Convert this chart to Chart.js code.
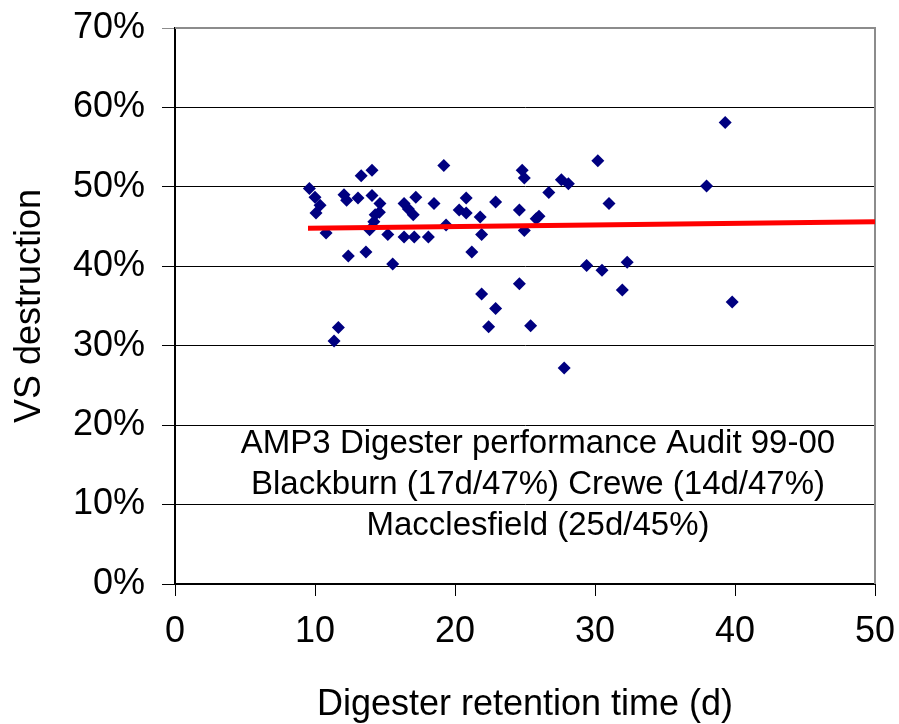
<!DOCTYPE html>
<html>
<head>
<meta charset="utf-8">
<script src="https://cdn.jsdelivr.net/npm/chart.js@4/dist/chart.umd.min.js"></script>
<style>
  html, body { margin: 0; padding: 0; background: #fff; }
  #wrap { width: 899px; height: 724px; }
</style>
</head>
<body>
<div id="wrap"><canvas id="vsChart" width="899" height="724"></canvas></div>
<script>
// retention time (d) and VS destruction (%)
const retentionDays = [
  9.6, 10.0, 10.36, 10.07, 10.79, 11.67, 11.36, 12.07, 12.26, 12.38,
  13.07, 13.3, 13.64, 13.9, 14.07, 14.07, 14.2, 14.3, 14.6, 14.64,
  15.2, 15.55, 16.36, 16.36, 16.67, 17.02, 17.09, 17.2, 18.1, 18.5,
  19.2, 19.36, 20.3, 20.8, 20.8, 21.2, 21.8, 21.9, 21.9, 22.4,
  22.9, 22.9, 24.6, 24.6, 24.8, 24.95, 24.95, 25.4, 25.8, 26.0,
  26.7, 27.6, 27.8, 28.1, 29.4, 30.2, 30.5, 31.0, 31.95, 32.3,
  37.97, 39.3, 39.8
];
const vsDestruction = [
  49.8, 48.7, 47.7, 46.7, 44.2, 32.3, 30.6, 49.0, 48.3, 41.3,
  48.6, 51.4, 41.8, 44.6, 52.1, 48.9, 45.6, 46.5, 46.8, 47.9,
  44.0, 40.3, 47.9, 43.7, 47.2, 46.5, 43.7, 48.7, 43.7, 47.9,
  52.7, 45.2, 47.1, 46.7, 48.6, 41.8, 46.2, 44.0, 36.5, 32.4,
  48.1, 34.7, 47.1, 37.8, 52.1, 51.1, 44.5, 32.5, 46.0, 46.3,
  49.3, 50.9, 27.2, 50.4, 40.1, 53.3, 39.5, 47.9, 37.0, 40.5,
  50.1, 58.1, 35.5
];

// linear trend line end points
const trendX = [9.5, 50];
const trendY = [44.8, 45.6];

const xTicks = [0, 10, 20, 30, 40, 50];
const yTicks = [0, 10, 20, 30, 40, 50, 60, 70];

const noteLines = [
  'AMP3 Digester performance Audit 99-00',
  'Blackburn (17d/47%) Crewe (14d/47%)',
  'Macclesfield (25d/45%)'
];

const FONT = "'Liberation Sans', Arial, sans-serif";

const points = retentionDays.map((x, i) => ({ x: x, y: vsDestruction[i] }));
const trend = trendX.map((x, i) => ({ x: x, y: trendY[i] }));

function noPad(s) {
  s.paddingTop = 0;
  s.paddingBottom = 0;
  s.paddingLeft = 0;
  s.paddingRight = 0;
}

// right/top frame and the text box inside the plot
const framePlugin = {
  id: 'frame',
  beforeDatasetsDraw(chart) {
    const { ctx, chartArea: a } = chart;
    ctx.save();
    ctx.strokeStyle = '#8c8c8c';
    ctx.lineWidth = 2;
    ctx.beginPath();
    ctx.moveTo(a.left, a.top);
    ctx.lineTo(a.right, a.top);
    ctx.lineTo(a.right, a.bottom);
    ctx.stroke();
    ctx.restore();
  },
  afterDraw(chart) {
    const { ctx, chartArea: a } = chart;
    ctx.save();
    ctx.fillStyle = '#000';
    ctx.font = '33px ' + FONT;
    ctx.textAlign = 'center';
    ctx.textBaseline = 'middle';
    const cx = a.left + 363;
    noteLines.forEach((t, i) => ctx.fillText(t, cx, a.top + 416 + i * 41));
    ctx.restore();
  }
};

new Chart(document.getElementById('vsChart'), {
  type: 'scatter',
  data: {
    datasets: [
      {
        label: 'trend',
        data: trend,
        showLine: true,
        borderColor: '#ff0000',
        borderWidth: 5,
        pointRadius: 0,
        fill: false
      },
      {
        label: 'VS destruction',
        data: points,
        pointStyle: 'rectRot',
        pointRadius: 6.5,
        backgroundColor: '#000080',
        borderColor: '#000080',
        borderWidth: 0
      }
    ]
  },
  options: {
    responsive: false,
    animation: false,
    layout: { padding: { top: 28, right: 24, left: 0, bottom: 0 } },
    plugins: {
      legend: { display: false },
      tooltip: { enabled: false }
    },
    scales: {
      x: {
        type: 'linear',
        min: 0,
        max: 50,
        afterBuildTicks: s => { s.ticks = xTicks.map(v => ({ value: v })); },
        afterFit: s => { s.height = 140; noPad(s); },
        grid: {
          drawOnChartArea: false,
          drawTicks: true,
          tickLength: 12,
          color: '#000',
          lineWidth: 1
        },
        border: { color: '#000', width: 2 },
        ticks: {
          color: '#000',
          padding: 14,
          maxRotation: 0,
          font: { family: FONT, size: 36 }
        },
        title: {
          display: true,
          text: 'Digester retention time (d)',
          color: '#000',
          font: { family: FONT, size: 36, lineHeight: 1.05 },
          padding: { top: 0, bottom: 0 }
        }
      },
      y: {
        type: 'linear',
        min: 0,
        max: 70,
        afterBuildTicks: s => { s.ticks = yTicks.map(v => ({ value: v })); },
        afterFit: s => { s.width = 175; noPad(s); },
        grid: {
          drawTicks: true,
          tickLength: 13,
          color: ctx => (ctx.tick && ctx.tick.value === 70 ? '#8c8c8c' : '#000'),
          lineWidth: 1
        },
        border: { color: '#000', width: 2 },
        ticks: {
          color: '#000',
          padding: 17,
          font: { family: FONT, size: 36 },
          callback: v => v + '%'
        },
        title: {
          display: true,
          text: 'VS destruction',
          color: '#000',
          font: { family: FONT, size: 36 },
          padding: { top: 8, bottom: 0 }
        }
      }
    }
  },
  plugins: [framePlugin]
});
</script>
</body>
</html>
